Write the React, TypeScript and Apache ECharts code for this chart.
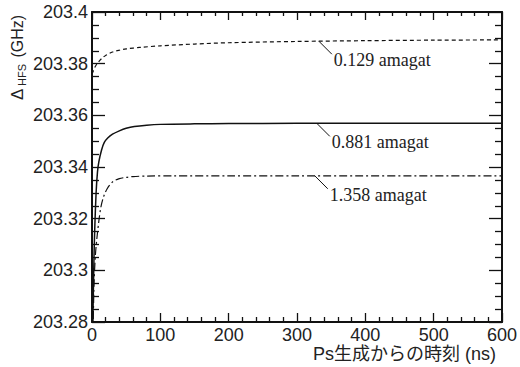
import React, { useEffect, useRef } from "react";
import * as echarts from "echarts";

const xTicks = [0, 100, 200, 300, 400, 500, 600];
const yTicks = [203.28, 203.3, 203.32, 203.34, 203.36, 203.38, 203.4];

const tLow = [0, 2, 5, 10, 15, 20, 30, 40, 50, 70, 100, 150, 200, 300, 400, 500, 600];
const vLow = [203.376, 203.3772, 203.379, 203.3808, 203.3822, 203.3832, 203.3845, 203.3852, 203.3857, 203.3863, 203.3869, 203.3876, 203.3881, 203.3886, 203.3889, 203.3891, 203.3892];

const tMid = [1, 2, 3, 4, 6, 8, 10, 14, 18, 23, 30, 40, 50, 62, 80, 100, 150, 200, 300, 600];
const vMid = [203.275, 203.292, 203.306, 203.316, 203.33, 203.338, 203.342, 203.3466, 203.3495, 203.3512, 203.3527, 203.354, 203.355, 203.3557, 203.3562, 203.3565, 203.3567, 203.3568, 203.3569, 203.3569];

const tHigh = [1.5, 3, 5, 7, 10, 13, 17, 22, 30, 40, 50, 60, 80, 120, 200, 300, 600];
const vHigh = [203.275, 203.295, 203.306, 203.312, 203.319, 203.3245, 203.3285, 203.3315, 203.3342, 203.3355, 203.336, 203.3363, 203.3365, 203.3366, 203.3366, 203.3366, 203.3366];

const labels = ["0.129 amagat", "0.881 amagat", "1.358 amagat"];
const labelT = [332, 329, 326];
const labelV = [203.3887, 203.3569, 203.3366];

const xTitle = "Ps生成からの時刻 (ns)";

const zip = (a: number[], b: number[]) => a.map((t, i) => [t, b[i]]);

export default function App() {
  const ref = useRef<HTMLDivElement>(null);
  useEffect(() => {
    if (!ref.current) return;
    const chart = echarts.init(ref.current, null, { renderer: "svg" });
    const sans = "'Liberation Sans', Arial, 'Noto Sans CJK JP', sans-serif";
    const lineCol = "#111";
    const axisBase = {
      min: 0,
      max: 600,
      interval: 100,
      axisLine: { show: true, onZero: false, lineStyle: { color: lineCol, width: 2 } },
      splitLine: { show: false },
    };
    const yBase = {
      min: 203.28,
      max: 203.4,
      interval: 0.02,
      axisLine: { show: true, onZero: false, lineStyle: { color: lineCol, width: 2 } },
      splitLine: { show: false },
      minorSplitLine: { show: false },
    };
    chart.setOption({
      animation: false,
      grid: { left: 92, right: 13, top: 12, bottom: 45, containLabel: false },
      xAxis: [
        {
          ...axisBase,
          type: "value",
          position: "bottom",
          axisTick: { show: true, inside: true, length: 9, lineStyle: { color: lineCol, width: 1.3 } },
          minorTick: { show: true, splitNumber: 5, length: 5, lineStyle: { color: lineCol, width: 1.3 } },
          axisLabel: {
            show: true,
            margin: 5,
            color: "#222",
            fontFamily: sans,
            fontSize: 18,
            lineHeight: 15,
            customValues: xTicks,
          },
        },
        {
          ...axisBase,
          type: "value",
          position: "top",
          axisTick: { show: true, inside: true, length: 8, lineStyle: { color: lineCol, width: 1.3 } },
          minorTick: { show: true, splitNumber: 5, length: 4, lineStyle: { color: lineCol, width: 1.3 } },
          axisLabel: { show: false },
        },
      ],
      yAxis: [
        {
          ...yBase,
          type: "value",
          position: "left",
          axisTick: { show: true, inside: true, length: 13, lineStyle: { color: lineCol, width: 1.3 } },
          minorTick: { show: true, splitNumber: 4, length: 7, lineStyle: { color: lineCol, width: 1.3 } },
          axisLabel: {
            show: true,
            margin: 4,
            color: "#222",
            fontFamily: sans,
            fontSize: 18,
            lineHeight: 15,
            customValues: yTicks,
            formatter: (v: number) => String(parseFloat(v.toFixed(2))),
          },
        },
        {
          ...yBase,
          type: "value",
          position: "right",
          axisTick: { show: true, inside: true, length: 13, lineStyle: { color: lineCol, width: 1.3 } },
          minorTick: { show: true, splitNumber: 4, length: 7, lineStyle: { color: lineCol, width: 1.3 } },
          axisLabel: { show: false },
        },
      ],
      series: [
        {
          type: "line",
          name: labels[0],
          data: zip(tLow, vLow),
          showSymbol: false,
          smooth: 0.3,
          clip: true,
          lineStyle: { color: lineCol, width: 1.2, type: [4, 3] },
        },
        {
          type: "line",
          name: labels[1],
          data: zip(tMid, vMid),
          showSymbol: false,
          smooth: 0.3,
          clip: true,
          lineStyle: { color: lineCol, width: 1.5, type: "solid" },
        },
        {
          type: "line",
          name: labels[2],
          data: zip(tHigh, vHigh),
          showSymbol: false,
          smooth: 0.3,
          clip: true,
          lineStyle: { color: lineCol, width: 1.2, type: [8, 3, 2, 3] },
        },
      ],
    });

    const ann: any[] = [];
    labels.forEach((lab, i) => {
      const p = chart.convertToPixel({ xAxisIndex: 0, yAxisIndex: 0 }, [labelT[i], labelV[i]]) as number[];
      if (!p) return;
      ann.push({
        type: "line",
        shape: { x1: p[0], y1: p[1], x2: p[0] + 13, y2: p[1] + 13 },
        style: { stroke: lineCol, lineWidth: 1 },
        silent: true,
      });
      ann.push({
        type: "text",
        x: p[0] + 15,
        y: p[1] + 19,
        style: {
          text: lab,
          font: "18px 'Liberation Serif', 'Times New Roman', serif",
          lineHeight: 16,
          fill: "#222",
          align: "left",
          verticalAlign: "middle",
        },
        silent: true,
      });
    });
    ann.push({
      type: "text",
      x: 496,
      y: 354,
      style: {
        text: xTitle,
        font: `18px ${sans}`,
        lineHeight: 16,
        fill: "#222",
        align: "right",
        verticalAlign: "middle",
      },
    });
    ann.push({
      type: "text",
      x: 17.5,
      y: 100,
      rotation: Math.PI / 2,
      style: { text: "Δ", font: `17px ${sans}`, fill: "#222", align: "left", verticalAlign: "middle" },
    });
    ann.push({
      type: "text",
      x: 22,
      y: 86,
      rotation: Math.PI / 2,
      style: { text: "HFS", font: `11px ${sans}`, fill: "#222", align: "left", verticalAlign: "middle" },
    });
    ann.push({
      type: "text",
      x: 17.5,
      y: 62,
      rotation: Math.PI / 2,
      style: { text: " (GHz)", font: `16px ${sans}`, fill: "#222", align: "left", verticalAlign: "middle" },
    });
    chart.setOption({ graphic: ann });
    return () => chart.dispose();
  }, []);
  return <div ref={ref} style={{ width: 520, height: 367, position: "absolute", left: 0, top: 0 }} />;
}
